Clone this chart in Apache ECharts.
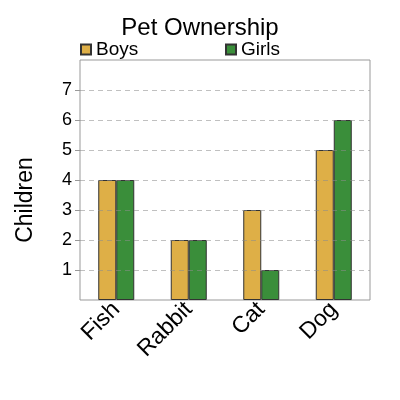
<!DOCTYPE html>
<html>
<head>
<meta charset="utf-8">
<script src="https://cdn.jsdelivr.net/npm/echarts@6/dist/echarts.min.js"></script>
<style>
  html, body { margin: 0; padding: 0; background: #fff; }
  #chart { width: 400px; height: 400px; }
</style>
</head>
<body>
<div id="chart"></div>
<script>
var pets = ['Fish', 'Rabbit', 'Cat', 'Dog'];
var boys = [4, 2, 3, 5];
var girls = [4, 2, 1, 6];
var yTicks = [1, 2, 3, 4, 5, 6, 7];

var font = 'Liberation Sans, Arial, sans-serif';
var myChart = echarts.init(document.getElementById('chart'));
myChart.setOption({
    animation: false,
    title: {
        text: 'Pet Ownership',
        left: 'center',
        top: 11,
        textStyle: { fontFamily: font, fontSize: 24, fontWeight: 'normal', color: '#000' }
    },
    legend: [
        {
            data: ['Boys'], left: 75, top: 35,
            itemWidth: 10, itemHeight: 10, icon: 'rect',
            textStyle: { fontFamily: font, fontSize: 19, color: '#000' }
        },
        {
            data: ['Girls'], left: 220, top: 35,
            itemWidth: 10, itemHeight: 10, icon: 'rect',
            textStyle: { fontFamily: font, fontSize: 19, color: '#000' }
        }
    ],
    grid: {
        left: 80, right: 30, top: 60, bottom: 100,
        show: true, borderColor: '#999', borderWidth: 1
    },
    graphic: [{
        type: 'text',
        x: 26, y: 200, rotation: Math.PI / 2,
        style: {
            text: 'Children', fontFamily: font, fontSize: 23, fill: '#000',
            textAlign: 'center', textVerticalAlign: 'middle'
        }
    }],
    xAxis: {
        type: 'category',
        data: pets,
        axisLine: { show: false },
        axisTick: { show: false },
        axisLabel: {
            rotate: 45, fontFamily: font, fontSize: 23, color: '#000', margin: 6
        }
    },
    yAxis: {
        type: 'value',
        min: 0, max: 8, interval: 1,
        z: 3,
        axisLine: { show: false },
        axisTick: { show: true, length: 5, lineStyle: { color: '#999' },
            customValues: yTicks },
        axisLabel: {
            fontFamily: font, fontSize: 18, color: '#000', margin: 8,
            customValues: yTicks
        },
        splitLine: {
            lineStyle: { color: 'rgba(140,140,140,0.55)', type: [5, 4], width: 1 },
            showMinLine: true, showMaxLine: true
        }
    },
    series: [
        {
            name: 'Boys', type: 'bar', data: boys,
            barWidth: 18, barGap: '0%',
            itemStyle: { color: '#DEAF47', borderColor: '#333', borderWidth: 1 }
        },
        {
            name: 'Girls', type: 'bar', data: girls,
            barWidth: 18,
            itemStyle: { color: '#3A8E3A', borderColor: '#333', borderWidth: 1 }
        }
    ]
});
</script>
</body>
</html>
